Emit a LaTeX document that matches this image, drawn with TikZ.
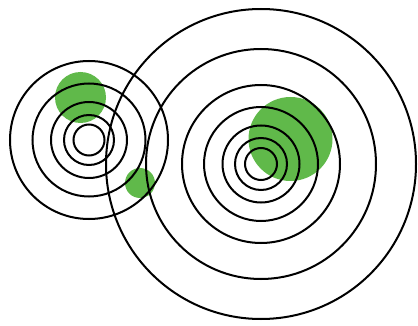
\documentclass[tikz,border=0pt]{standalone}
\definecolor{blobgreen}{RGB}{96,185,74}
\tikzset{
  ring/.style={draw=black, line width=2pt, fill=none},
  blob/.style={fill=blobgreen, draw=none}
}
\begin{document}
\begin{tikzpicture}[x=1pt,y=-1pt]
\useasboundingbox (0,0) rectangle (418,326);
% green blobs (below the rings)
\fill[blob] (290.5,139) circle (42);
\fill[blob] (80.5,97.5) circle (25.5);
\fill[blob] (140,183) circle (15);
% centres
\coordinate (L) at (89,140);
\coordinate (R) at (261,164);
% left set of rings
\foreach \r in {15.5,25,38,56.5,79} {
  \draw[ring] (L) circle (\r);
}
% right set of rings
\foreach \r in {16,26,38.5,57,79,115,155} {
  \draw[ring] (R) circle (\r);
}
\end{tikzpicture}
\end{document}
